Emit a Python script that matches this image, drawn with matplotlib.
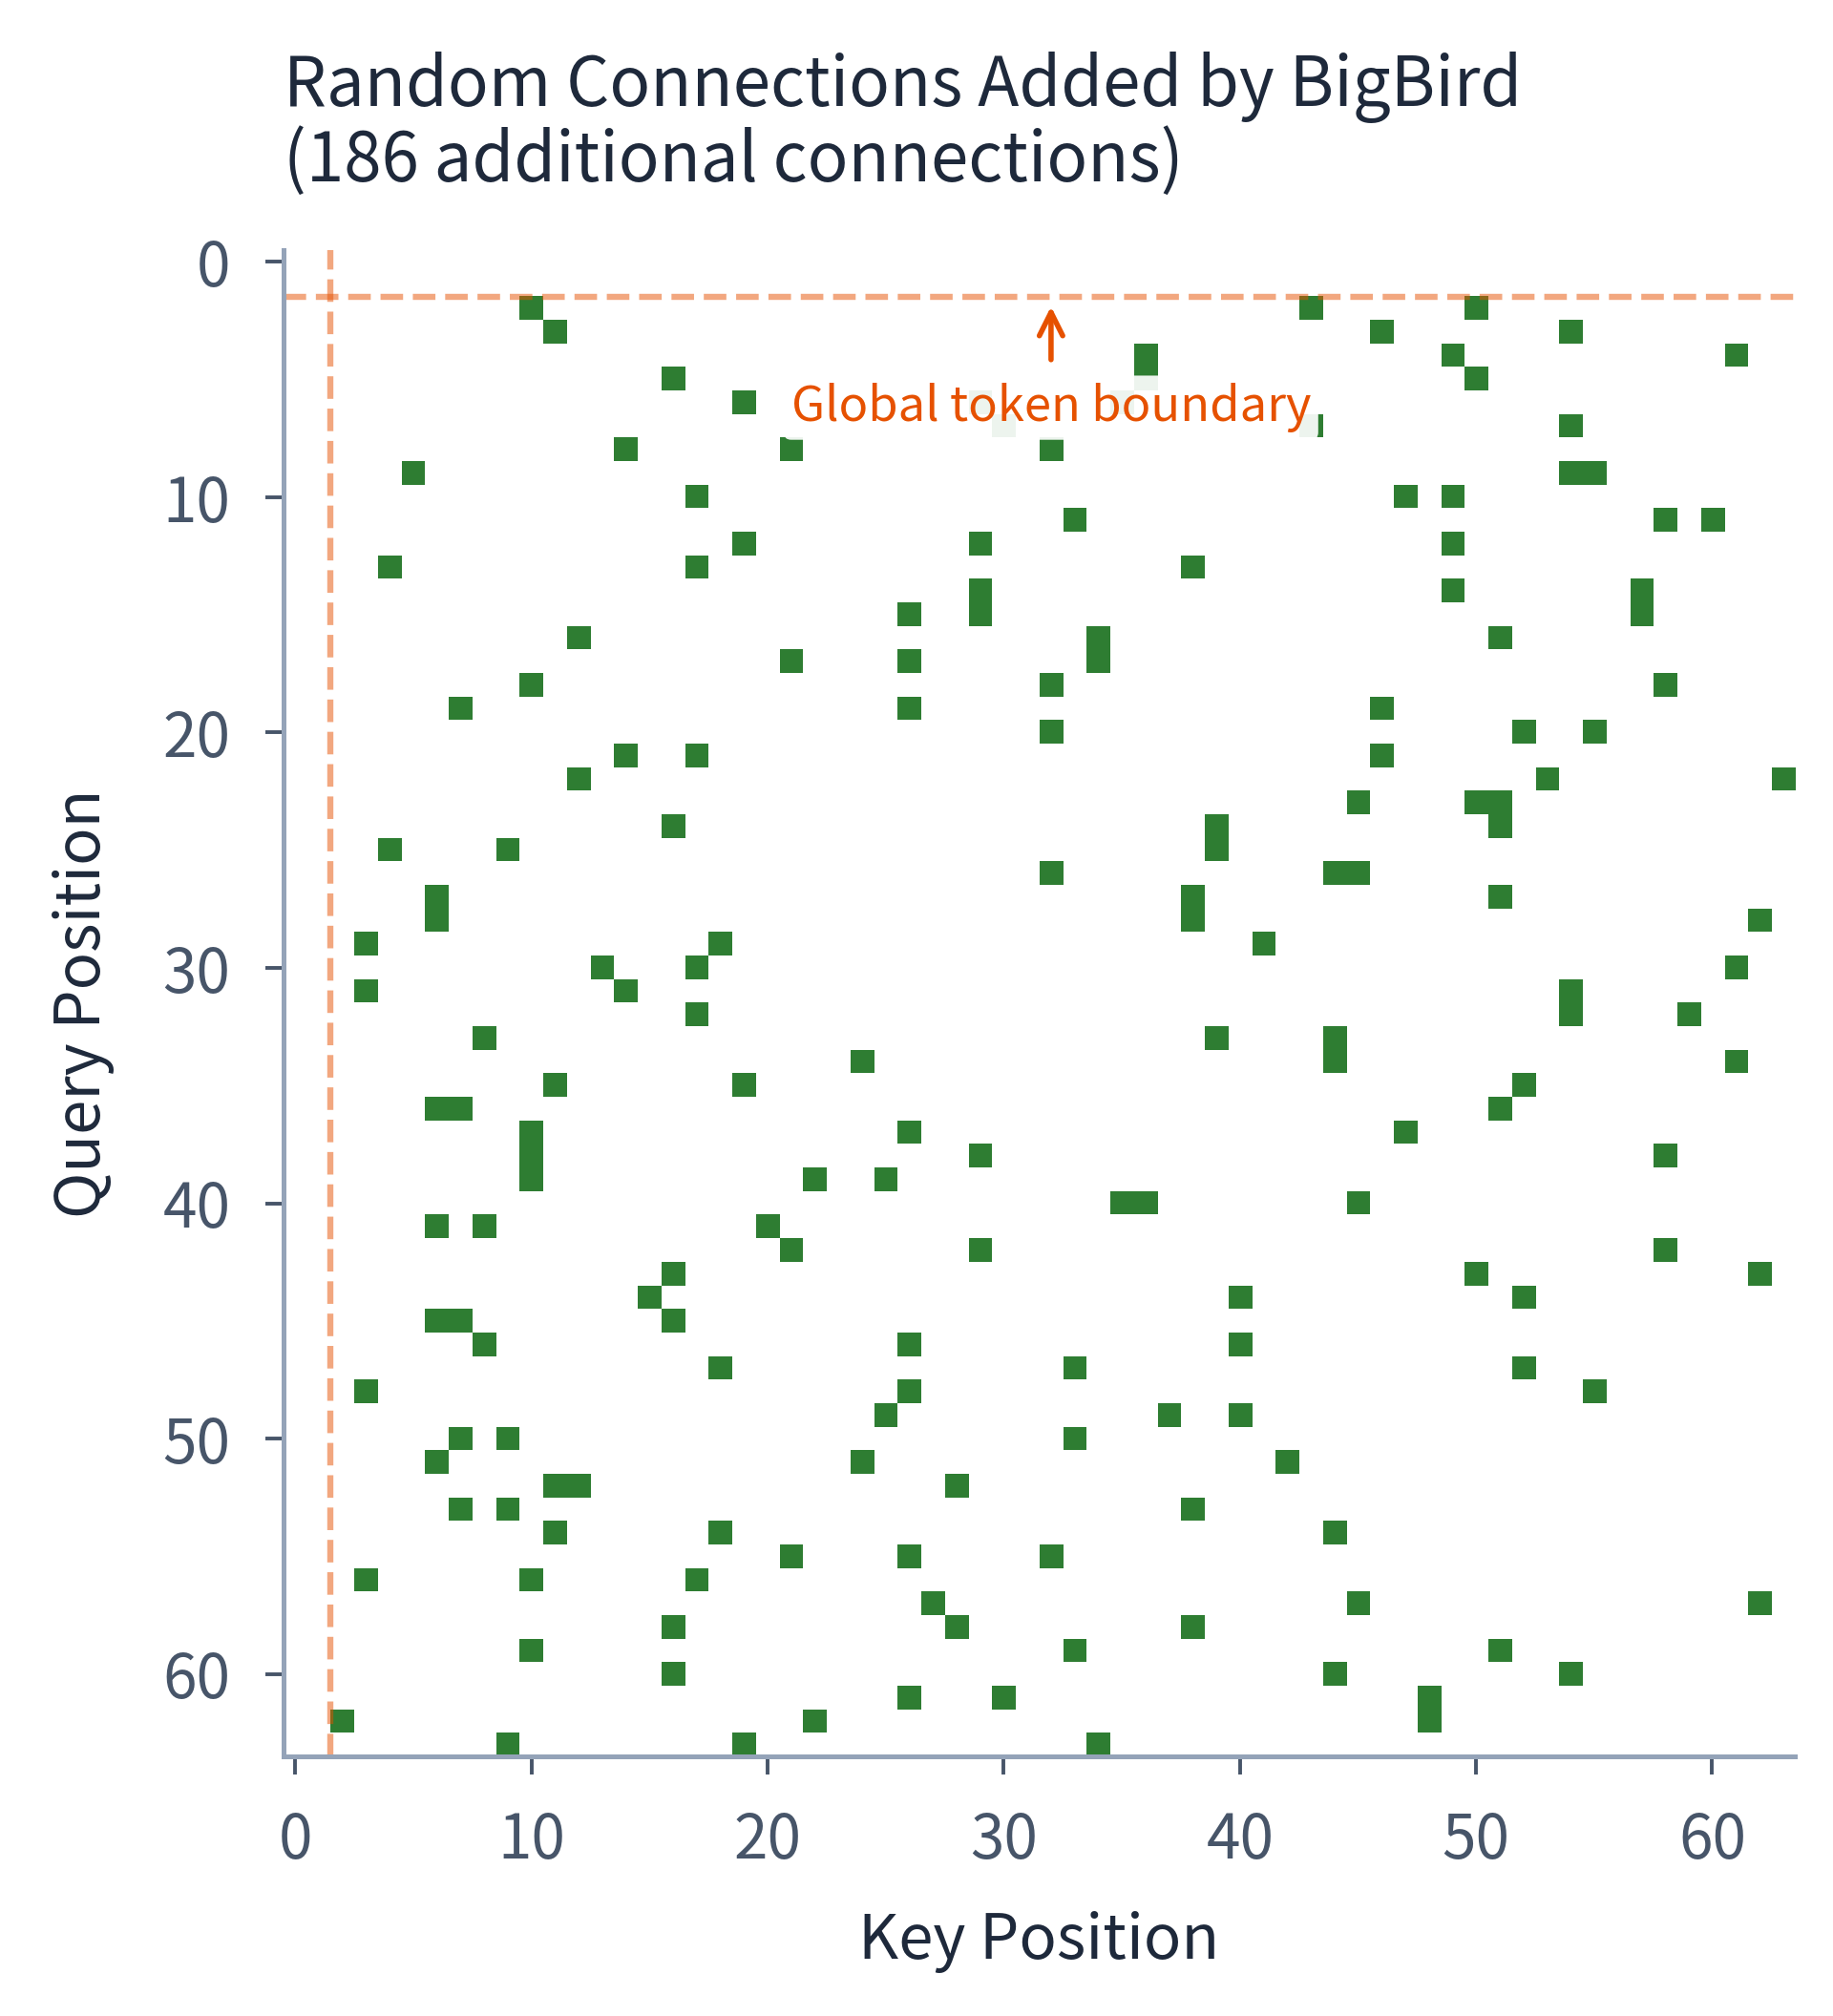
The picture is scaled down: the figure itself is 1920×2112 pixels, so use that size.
import numpy as np
import matplotlib.pyplot as plt
from matplotlib.colors import ListedColormap

plt.rcParams['font.family'] = ['Noto Sans CJK KR', 'DejaVu Sans']

seq_len = 64
n_global = 2

# query / key index of every random connection (3 per non-global query row)
query_pos = [2, 2, 2, 3, 3, 3, 4, 4, 4, 5, 5, 5, 6, 6, 6, 7, 7, 7, 8, 8, 8,
             9, 9, 9, 10, 10, 10, 11, 11, 11, 12, 12, 12, 13, 13, 13,
             14, 14, 14, 15, 15, 15, 16, 16, 16, 17, 17, 17, 18, 18, 18,
             19, 19, 19, 20, 20, 20, 21, 21, 21, 22, 22, 22, 23, 23, 23,
             24, 24, 24, 25, 25, 25, 26, 26, 26, 27, 27, 27, 28, 28, 28,
             29, 29, 29, 30, 30, 30, 31, 31, 31, 32, 32, 32, 33, 33, 33,
             34, 34, 34, 35, 35, 35, 36, 36, 36, 37, 37, 37, 38, 38, 38,
             39, 39, 39, 40, 40, 40, 41, 41, 41, 42, 42, 42, 43, 43, 43,
             44, 44, 44, 45, 45, 45, 46, 46, 46, 47, 47, 47, 48, 48, 48,
             49, 49, 49, 50, 50, 50, 51, 51, 51, 52, 52, 52, 53, 53, 53,
             54, 54, 54, 55, 55, 55, 56, 56, 56, 57, 57, 57, 58, 58, 58,
             59, 59, 59, 60, 60, 60, 61, 61, 61, 62, 62, 62, 63, 63, 63]
key_pos = [10, 43, 50, 11, 46, 54, 36, 49, 61, 16, 36, 50, 19, 29, 35, 30, 43, 54, 14, 21, 32,
           5, 54, 55, 17, 47, 49, 33, 58, 60, 19, 29, 49, 4, 17, 38,
           29, 49, 57, 26, 29, 57, 12, 34, 51, 21, 26, 34, 10, 32, 58,
           7, 26, 46, 32, 52, 55, 14, 17, 46, 12, 53, 63, 45, 50, 51,
           16, 39, 51, 4, 9, 39, 32, 44, 45, 6, 38, 51, 6, 38, 62,
           3, 18, 41, 13, 17, 61, 3, 14, 54, 17, 54, 59, 8, 39, 44,
           24, 44, 61, 11, 19, 52, 6, 7, 51, 10, 26, 47, 10, 29, 58,
           10, 22, 25, 35, 36, 45, 6, 8, 20, 21, 29, 58, 16, 50, 62,
           15, 40, 52, 6, 7, 16, 8, 26, 40, 18, 33, 52, 3, 26, 55,
           25, 37, 40, 7, 9, 33, 6, 24, 42, 11, 12, 28, 7, 9, 38,
           11, 18, 44, 21, 26, 32, 3, 10, 17, 27, 45, 62, 16, 28, 38,
           10, 33, 51, 16, 44, 54, 26, 30, 48, 2, 22, 48, 9, 19, 34]

ticks = [0, 10, 20, 30, 40, 50, 60]

mask = np.zeros((seq_len, seq_len))
mask[query_pos, key_pos] = 1

fig = plt.figure(figsize=(9.6, 10.56), dpi=200)
ax = fig.add_axes([0.1547, 0.1288, 0.8245, 0.7472])

ax.imshow(mask, cmap=ListedColormap(['white', '#2e7d32']),
          interpolation='nearest', aspect='auto')

# global token boundary
ax.axhline(n_global - 0.5, color='#e65100', alpha=0.5, ls='--', lw=2.3)
ax.axvline(n_global - 0.5, color='#e65100', alpha=0.5, ls='--', lw=2.3)
ax.annotate('Global token boundary', xy=(32, 1.9), xytext=(32, 6.2),
            ha='center', va='center', fontsize=18.3, color='#e65100',
            bbox=dict(boxstyle='round,pad=0.15', fc='white', ec='none', alpha=0.92),
            arrowprops=dict(arrowstyle='->', color='#e65100', lw=2,
                            shrinkA=6, shrinkB=0, mutation_scale=22))

ax.set_xticks(ticks)
ax.set_yticks(ticks)
ax.tick_params(axis='both', direction='out', length=7, width=1.4, color='#475569',
               labelcolor='#475569', labelsize=23, pad=13)

for s in ['top', 'right']:
    ax.spines[s].set_visible(False)
for s in ['left', 'bottom']:
    ax.spines[s].set_color('#94a3b8')
    ax.spines[s].set_linewidth(1.8)

ax.set_xlabel('Key Position', fontsize=23.5, color='#1e293b', labelpad=14)
ax.set_ylabel('Query Position', fontsize=23.5, color='#1e293b', labelpad=18)
ax.set_title('Random Connections Added by BigBird\n(186 additional connections)',
             loc='left', fontsize=25.5, color='#1e293b', pad=26, linespacing=1.07)

plt.savefig('out.png', dpi=200, facecolor='white')
